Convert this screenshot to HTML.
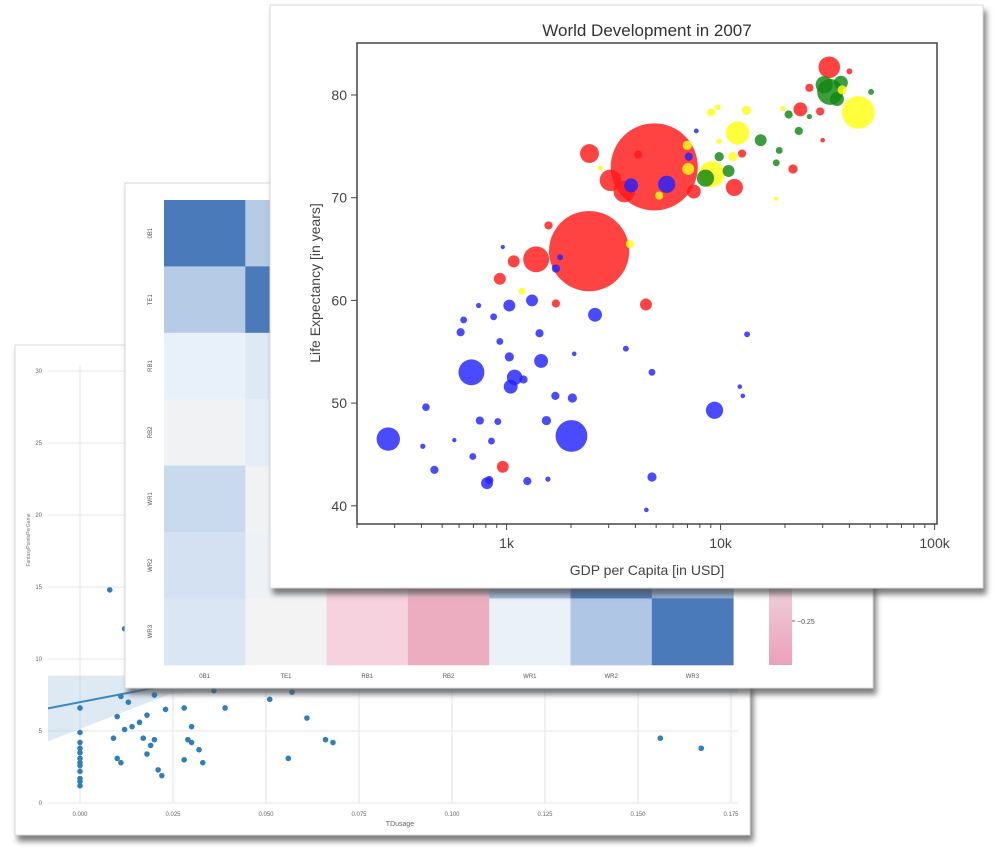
<!DOCTYPE html>
<html><head><meta charset="utf-8">
<style>
html,body{margin:0;padding:0;background:#fff;}
svg{display:block;font-family:"Liberation Sans",sans-serif;}
</style></head>
<body>
<svg id="root" width="1000" height="863" viewBox="0 0 1000 863">
<defs>
<filter id="sh" x="-5%" y="-5%" width="115%" height="115%">
<feDropShadow dx="3" dy="6" stdDeviation="3" flood-color="#555" flood-opacity="0.75"/>
</filter>
<clipPath id="clipFront"><rect x="357" y="43" width="580" height="481"/></clipPath>
<clipPath id="clipBack"><rect x="48" y="365" width="690" height="438"/></clipPath>
<linearGradient id="cbar" x1="0" y1="0" x2="0" y2="1">
<stop offset="0" stop-color="#3f6fb0"/><stop offset="0.45" stop-color="#b0c6e3"/><stop offset="0.72" stop-color="#f2f2f2"/><stop offset="1" stop-color="#eaa0b8"/>
</linearGradient>
</defs>

<g id="back">
<rect x="15" y="345" width="735" height="490" fill="#fff" stroke="#d8d8d8" filter="url(#sh)"/>
<g id="backGrid"></g>
<g id="backBand" clip-path="url(#clipBack)"></g>
<g id="backPts" clip-path="url(#clipBack)"></g>
<g id="backTicks"></g>
<text x="400" y="826" font-size="7" fill="#666" text-anchor="middle">TDusage</text>
<text x="30" y="540" font-size="5" fill="#777" text-anchor="middle" transform="rotate(-90 30 540)">FantasyPointsPerGame</text>
</g>

<g id="mid">
<rect x="125" y="183" width="748" height="505" fill="#fff" stroke="#d8d8d8" filter="url(#sh)"/>
<g id="heat"></g>
<rect x="769" y="200" width="23" height="465" fill="url(#cbar)"/>
<line x1="792" y1="621" x2="795" y2="621" stroke="#666"/>
<text x="797" y="624" font-size="7" fill="#555">−0.25</text>
</g>

<g id="front">
<rect x="270" y="5" width="713" height="583" fill="#fff" stroke="#d8d8d8" filter="url(#sh)"/>
<text x="647" y="36" font-size="17" fill="#333" text-anchor="middle">World Development in 2007</text>
<g id="bubbles" clip-path="url(#clipFront)"></g>
<rect x="357" y="43" width="580" height="481" fill="none" stroke="#444" stroke-width="1.5"/>
<g id="frontTicks"></g>
<text x="647" y="575" font-size="14" fill="#444" text-anchor="middle">GDP per Capita [in USD]</text>
<text x="320" y="283" font-size="14" fill="#444" text-anchor="middle" transform="rotate(-90 320 283)">Life Expectancy [in years]</text>
</g>
</svg>

<script>
const gdp = [280,406,460,420,570,685,695,750,740,630,610,810,830,850,910,870,930,1030,1030,1045,1090,1200,960,1315,1250,1425,1450,1560,1535,1690,2030,2010,1700,1780,2070,2590,3610,4780,4780,4500,9370,13300,12300,12700,3820,5600,7100,7700,
 4900,2430,2440,3060,3550,1570,1375,1080,930,1700,4480,960,7500,11600,12600,21800,23600,29200,32200,40000,26000,4120,30000,
 32500,30500,35000,36500,15400,23200,20800,18800,18200,10900,8500,9850,26000,50500,
 44000,12000,9100,7060,6990,13200,9030,9700,9850,11400,3770,1180,18200,5160,2740,19600,37000];
const lifeExp = [46.5,45.8,43.5,49.6,46.4,53,44.8,48.3,59.5,58.1,56.9,42.2,42.5,46.3,48.2,58.4,56.0,59.5,54.5,51.6,52.5,52.3,65.2,60.0,42.4,56.8,54.1,42.6,48.3,50.7,50.5,46.8,63.1,64.2,54.8,58.6,55.3,53,42.8,39.6,49.3,56.7,51.6,50.7,71.2,71.3,74,76.5,
 73.0,64.8,74.3,71.7,70.6,67.3,64.0,63.8,62.1,59.7,59.6,43.8,70.6,71.0,74.3,72.8,78.6,78.4,82.7,82.3,80.7,74.2,75.6,
 80.3,81.0,79.6,81.2,75.6,76.5,78.1,74.6,73.4,72.6,71.9,74.0,77.9,80.3,
 78.3,76.3,72.3,72.8,75.1,78.5,78.3,78.8,75.5,74,65.5,60.9,69.9,70.2,72.9,78.7,80.5];
const population = [74,0.5,4,3,0.1,94,2,4,0.5,2,4,13,4,2,2,2,2,13,6,20,27,4,0.1,13,4,4,20,0.5,6,4,6,150,4,1,0.2,20,1,2,6,0.2,35,1,0.2,0.2,20,35,4,0.3,
 1318,1110,44,61,61,4,94,13,13,4,13,13,20,35,4,6,20,4,61,1,4,4,0.2,
 94,35,20,20,13,4,4,2,2,13,35,6,0.5,1,
 160,74,94,13,6,6,4,1,0.5,6,4,2,0.1,4,0.5,0.5,6];
const continent = [].concat(Array(48).fill('blue'),Array(23).fill('red'),Array(14).fill('green'),Array(17).fill('yellow'));
const xTickVals = [1000,10000,100000];
const xTickLabels = ['1k','10k','100k'];
const yTickVals = [40,50,60,70,80];

const tdUsage = [0,0,0,0,0,0,0,0,0,0,0,0,.008,.012,.011,.013,.010,.012,.009,.014,.016,.018,.017,.019,.018,.010,.011,.021,.022,.020,.023,.020,.028,.029,.028,.030,.032,.033,.030,.039,.051,.057,.056,.061,.066,.068,.156,.167,.036];
const fpPerGame = [6.6,4.9,4.2,3.8,3.5,3.1,2.8,2.6,2.2,1.7,1.5,1.2,14.8,12.1,7.4,7.0,6.0,5.1,4.5,5.3,5.6,6.1,4.5,4.0,3.4,3.1,2.8,2.3,1.9,4.4,6.5,7.5,6.6,4.4,3.0,4.2,3.7,2.8,5.3,6.6,7.2,7.7,3.1,5.9,4.4,4.2,4.5,3.8,7.8];
const regIntercept = 7.0, regSlope = 50;
const backXTicks = [0,0.025,0.05,0.075,0.1,0.125,0.15,0.175];
const backXLabels = ['0.000','0.025','0.050','0.075','0.100','0.125','0.150','0.175'];
const backYTicks = [0,5,10,15,20,25,30];

const heatLabels = ['0B1','TE1','RB1','RB2','WR1','WR2','WR3'];
const heatValues = [
 [1,.35,.1,.02,.25,.2,.17],
 [.35,1,.15,.12,.02,.05,0],
 [.1,.15,1,.3,-.15,-.2,-.2],
 [.02,.12,.3,1,-.25,-.3,-.35],
 [.25,.02,-.15,-.25,1,.45,.08],
 [.2,.05,-.2,-.3,.45,1,.55],
 [.17,0,-.2,-.35,.08,.38,1]];

const NS='http://www.w3.org/2000/svg';
function mk(tag,attrs,parent){const e=document.createElementNS(NS,tag);for(const k in attrs)e.setAttribute(k,attrs[k]);parent.appendChild(e);return e;}

const fx = g => 357 + (Math.log10(g) - Math.log10(200)) * 214;
const fy = l => 95 + (80 - l) * 10.27;
const fr = p => 1.8 + Math.sqrt(p) * 1.15;
const colorMap = {blue:'#2222ff',red:'#ff1a1a',green:'#118811',yellow:'#ffff11'};

const bubbleG = document.getElementById('bubbles');
const order = gdp.map((_,i)=>i).sort((a,b)=>population[b]-population[a]);
order.forEach(i=>{
  const c = mk('circle',{cx:fx(gdp[i]),cy:fy(lifeExp[i]),r:fr(population[i]),fill:colorMap[continent[i]],'fill-opacity':0.82},bubbleG);
  
  
});

const ft = document.getElementById('frontTicks');
xTickVals.forEach((v,i)=>{
  const x=fx(v);
  const l=mk('line',{x1:x,y1:524,x2:x,y2:530,stroke:'#444'},ft);
  
  
  const t=mk('text',{x:x,y:548,'font-size':14,fill:'#444','text-anchor':'middle'},ft);
  t.textContent=xTickLabels[i];
  
  
});
for(let d=100;d<=10000;d*=10){for(let m=2;m<=9;m++){const v=d*m;if(v<200)continue;const x=fx(v);if(x>937)continue;
  const l=mk('line',{x1:x,y1:524,x2:x,y2:528,stroke:'#444'},ft);
  
  }}
yTickVals.forEach(v=>{
  const y=fy(v);
  const l=mk('line',{x1:351,y1:y,x2:357,y2:y,stroke:'#444'},ft);
  
  
  const t=mk('text',{x:347,y:y+5,'font-size':14,fill:'#444','text-anchor':'end'},ft);
  t.textContent=v;
  
  
});

const bx = v => 80 + v/0.025*93;
const by = v => 803 - v*14.4;
const bg = document.getElementById('backGrid');
backXTicks.forEach(v=>{const l=mk('line',{x1:bx(v),y1:365,x2:bx(v),y2:803,stroke:'#e6e6e6'},bg);
  
  });
backYTicks.forEach(v=>{const l=mk('line',{x1:48,y1:by(v),x2:738,y2:by(v),stroke:'#e6e6e6'},bg);
  
  });
const bt=document.getElementById('backTicks');
backXTicks.forEach((v,i)=>{const t=mk('text',{x:bx(v),y:816,'font-size':6,fill:'#666','text-anchor':'middle'},bt);t.textContent=backXLabels[i];
  
  });
backYTicks.forEach(v=>{const t=mk('text',{x:42,y:by(v)+2,'font-size':6,fill:'#666','text-anchor':'end'},bt);t.textContent=v;
  
  });
const band=document.getElementById('backBand');
const x0=-0.009,x1=0.18;
const upper=[],lower=[];
for(let k=0;k<=40;k++){const xv=x0+(x1-x0)*k/40;const hw=0.6+Math.abs(xv-0.025)*50;const m=regIntercept+regSlope*xv;
  upper.push(bx(xv)+','+by(m+hw));lower.unshift(bx(xv)+','+by(m-hw));}
const bp=mk('polygon',{points:upper.concat(lower).join(' '),fill:'#9ec3e0','fill-opacity':0.35},band);


const rl=mk('line',{x1:bx(x0),y1:by(regIntercept+regSlope*x0),x2:bx(x1),y2:by(regIntercept+regSlope*x1),stroke:'#3a87bd','stroke-width':2},band);


const bpts=document.getElementById('backPts');
tdUsage.forEach((v,i)=>{const c=mk('circle',{cx:bx(v),cy:by(fpPerGame[i]),r:2.8,fill:'#2f7fb8'},bpts);
  
  });

function hcol(v){
  const stops=[[-0.4,[234,160,184]],[-0.2,[245,210,221]],[0,[243,243,243]],[0.1,[232,240,250]],[0.4,[171,195,226]],[1,[74,122,186]]];
  v=Math.max(-0.4,Math.min(1,v));
  for(let k=0;k<stops.length-1;k++){const a=stops[k],b=stops[k+1];
    if(v<=b[0]){const t=(v-a[0])/(b[0]-a[0]);return 'rgb('+a[1].map((c,j)=>Math.round(c+(b[1][j]-c)*t)).join(',')+')';}}
  return 'rgb(74,122,186)';
}
const hx0=164,hy0=200,cw=81.3,ch=66.4;
const hg=document.getElementById('heat');
heatValues.forEach((row,r)=>row.forEach((v,c)=>{
  const rc=mk('rect',{x:hx0+c*cw,y:hy0+r*ch,width:cw+0.5,height:ch+0.5,fill:hcol(v)},hg);
  
  
}));
heatLabels.forEach((lab,i)=>{
  const t=mk('text',{x:hx0+i*cw+cw/2,y:678,'font-size':6,fill:'#555','text-anchor':'middle'},hg);t.textContent=lab;
  
  
  const yy=hy0+i*ch+ch/2;
  const t2=mk('text',{x:152,y:yy,'font-size':6,fill:'#555','text-anchor':'middle',transform:'rotate(-90 152 '+yy+')'},hg);t2.textContent=lab;
  
  
});
</script>
</body></html>
